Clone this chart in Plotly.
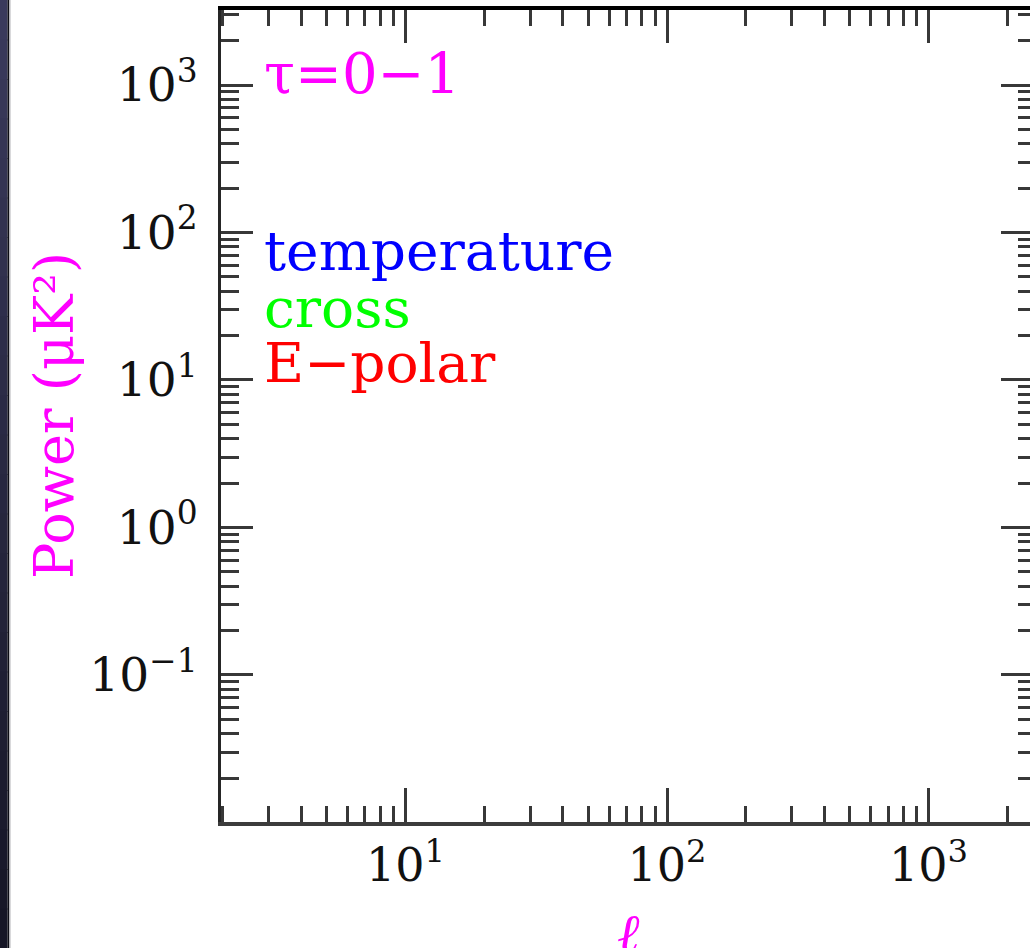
import plotly.graph_objects as go

# ---------------- data ----------------
X_RANGE_LOG = [0.2945, 3.388]          # multipole l from ~2 to ~2400
Y_RANGE_LOG = [-1.997, 3.5085]         # power from ~0.01 to ~3200 (muK^2)

X_MAJOR = [10, 100, 1000]
X_MAJOR_LABELS = ["10<sup>1</sup>", "10<sup>2</sup>", "10<sup>3</sup>"]
X_MINOR = [2, 3, 4, 5, 6, 7, 8, 9,
           20, 30, 40, 50, 60, 70, 80, 90,
           200, 300, 400, 500, 600, 700, 800, 900,
           2000]

Y_MAJOR = [0.1, 1, 10, 100, 1000]
Y_MAJOR_LABELS = ["10<sup>\u22121</sup>", "10<sup>0</sup>", "10<sup>1</sup>",
                  "10<sup>2</sup>", "10<sup>3</sup>"]
Y_MINOR = [0.02, 0.03, 0.04, 0.05, 0.06, 0.07, 0.08, 0.09,
           0.2, 0.3, 0.4, 0.5, 0.6, 0.7, 0.8, 0.9,
           2, 3, 4, 5, 6, 7, 8, 9,
           20, 30, 40, 50, 60, 70, 80, 90,
           200, 300, 400, 500, 600, 700, 800, 900,
           2000, 3000]

SERIES_NAMES = ["temperature", "cross", "E-polar"]
SERIES_LABELS = ["temperature", "cross", "E\u2212polar"]
SERIES_COLORS = ["#0000ff", "#00ff00", "#ff0000"]
# the series carry no points in the reference (empty panel)
SERIES_X = [[], [], []]
SERIES_Y = [[], [], []]

TAU_LABEL = "\u03c4=0\u22121"
Y_TITLE = "Power (\u03bcK\u00b2)"
X_TITLE = "<i>\u2113</i>"
MAGENTA = "#ff00ff"

# ---------------- figure ----------------
W, H = 1030, 948
ML, MR, MT, MB = 221, 0, 10, 126
PW, PH = W - ML - MR, H - MT - MB


def px_x(p):
    return (p - ML) / PW


def px_y(p):
    return 1 - (p - MT) / PH


FONT = "DejaVu Serif"
TICKC = "#383838"

fig = go.Figure()
for name, xs, ys, c in zip(SERIES_NAMES, SERIES_X, SERIES_Y, SERIES_COLORS):
    fig.add_trace(go.Scatter(x=xs, y=ys, name=name, mode="lines",
                             line=dict(color=c), showlegend=False))
# companion empty trace so the mirrored (top / right) axes are drawn
fig.add_trace(go.Scatter(x=[], y=[], xaxis="x2", yaxis="y2", showlegend=False))

common = dict(type="log", showgrid=False, zeroline=False, ticks="inside",
              tickwidth=3, tickcolor=TICKC)

fig.update_layout(
    width=W, height=H,
    margin=dict(l=ML, r=MR, t=MT, b=MB, pad=0),
    paper_bgcolor="white", plot_bgcolor="white",
    showlegend=False,
    xaxis=dict(**common, range=X_RANGE_LOG, tickmode="array",
               tickvals=X_MAJOR, ticktext=X_MAJOR_LABELS, ticklen=34,
               showline=True, linecolor="#3c3c3c", linewidth=4,
               tickfont=dict(family=FONT, size=46, color="#111111"),
               minor=dict(tickmode="array", tickvals=X_MINOR, ticks="inside",
                          ticklen=16, tickwidth=3, tickcolor=TICKC, showgrid=False)),
    xaxis2=dict(**common, range=X_RANGE_LOG, overlaying="x", side="top",
                anchor="y", tickmode="array", tickvals=X_MAJOR, ticklen=33,
                showticklabels=False, showline=True, linecolor="#000000",
                linewidth=4,
                minor=dict(tickmode="array", tickvals=X_MINOR, ticks="inside",
                           ticklen=16, tickwidth=3, tickcolor=TICKC, showgrid=False)),
    yaxis=dict(**common, range=Y_RANGE_LOG, tickmode="array",
               tickvals=Y_MAJOR, ticktext=Y_MAJOR_LABELS, ticklen=32,
               showline=True, linecolor="#262626", linewidth=3,
               ticklabelstandoff=11,
               tickfont=dict(family=FONT, size=47, color="#111111"),
               minor=dict(tickmode="array", tickvals=Y_MINOR, ticks="inside",
                          ticklen=18, tickwidth=3, tickcolor=TICKC, showgrid=False)),
    yaxis2=dict(**common, range=Y_RANGE_LOG, overlaying="y", side="right",
                anchor="x", tickmode="array", tickvals=Y_MAJOR, ticklen=29,
                showticklabels=False, showline=False,
                minor=dict(tickmode="array", tickvals=Y_MINOR, ticks="inside",
                           ticklen=12, tickwidth=3, tickcolor=TICKC, showgrid=False)),
)

annotations = []
# tau label
annotations.append(dict(text=TAU_LABEL, xref="paper", yref="paper",
                        x=px_x(262), y=px_y(73), xanchor="left", yanchor="middle",
                        showarrow=False, font=dict(family=FONT, size=56, color=MAGENTA)))
# series labels
label_mid = [251, 308, 363]
for lab, c, ym in zip(SERIES_LABELS, SERIES_COLORS, label_mid):
    annotations.append(dict(text=lab, xref="paper", yref="paper",
                            x=px_x(262), y=px_y(ym), xanchor="left", yanchor="middle",
                            showarrow=False, font=dict(family=FONT, size=55, color=c)))
# axis titles
annotations.append(dict(text=Y_TITLE, xref="paper", yref="paper",
                        x=px_x(54), y=px_y(416), xanchor="center", yanchor="middle",
                        textangle=-90, showarrow=False,
                        font=dict(family=FONT, size=54, color=MAGENTA)))
annotations.append(dict(text=X_TITLE, xref="paper", yref="paper",
                        x=px_x(628), y=px_y(900), xanchor="center", yanchor="top",
                        showarrow=False,
                        font=dict(family=FONT, size=54, color=MAGENTA)))
fig.update_layout(annotations=annotations)

# dark frame strip at the left edge (vertical gradient made of bands)
shapes = []
nb = 24
top_c = (58, 58, 92)
bot_c = (22, 22, 38)
for i in range(nb):
    t = i / (nb - 1)
    c = tuple(round(a + (b - a) * t) for a, b in zip(top_c, bot_c))
    y0 = H * i / nb
    y1 = H * (i + 1) / nb + 1
    shapes.append(dict(type="rect", xref="paper", yref="paper",
                       x0=px_x(0), x1=px_x(7.5), y0=px_y(y1), y1=px_y(y0),
                       fillcolor="rgb(%d,%d,%d)" % c, line=dict(width=0), layer="above"))
shapes.append(dict(type="rect", xref="paper", yref="paper",
                   x0=px_x(7.5), x1=px_x(9), y0=px_y(H), y1=px_y(0),
                   fillcolor="#0c0c14", line=dict(width=0), layer="above"))
shapes.append(dict(type="rect", xref="paper", yref="paper",
                   x0=px_x(9), x1=px_x(10.5), y0=px_y(H), y1=px_y(0),
                   fillcolor="#b4b4b8", line=dict(width=0), layer="above"))
fig.update_layout(shapes=shapes)

fig.write_html("out.html",
               config={"displayModeBar": False},
               post_script="document.body.style.margin='0';"
                           "document.body.style.overflow='hidden';")
